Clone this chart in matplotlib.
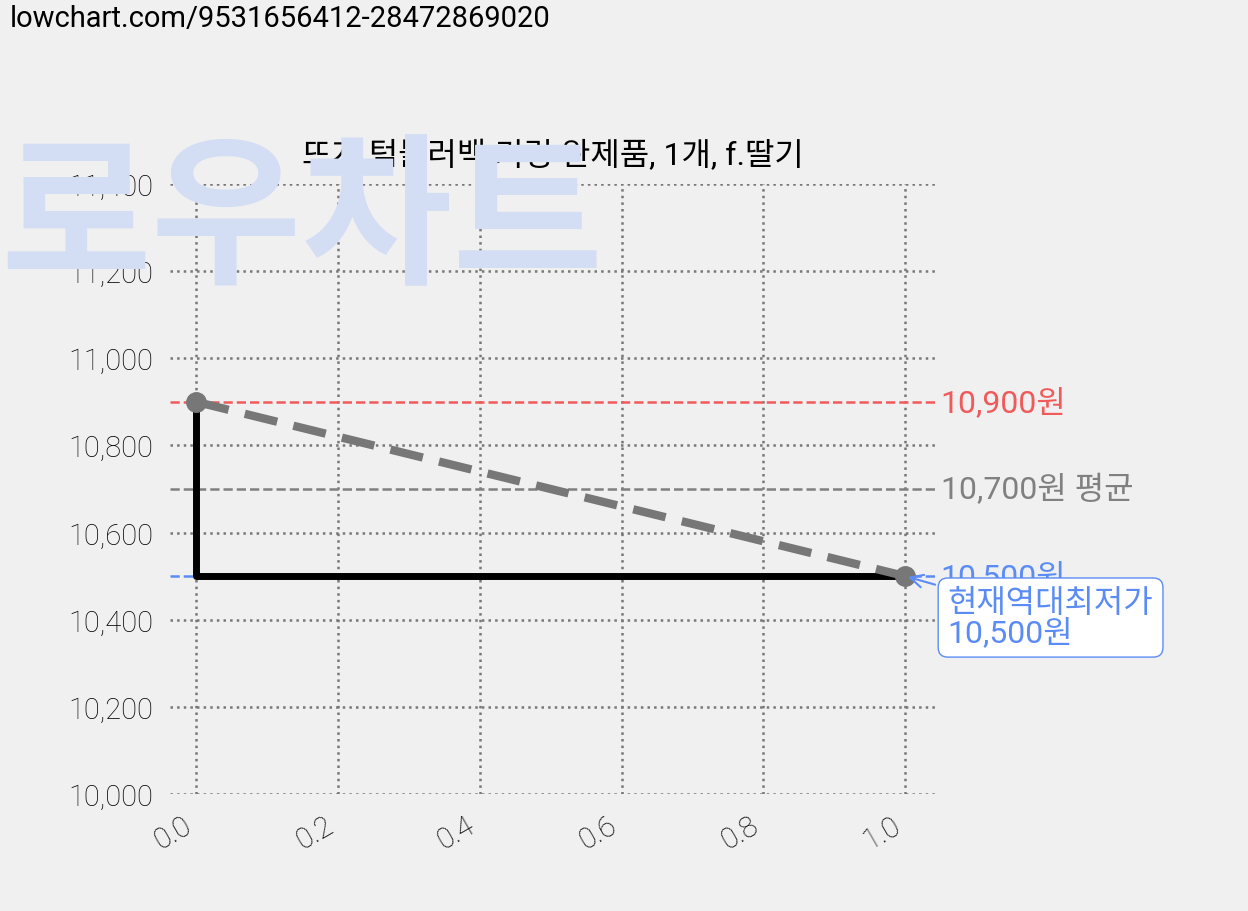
import matplotlib
matplotlib.use("Agg")
import matplotlib.pyplot as plt

plt.rcParams['font.family'] = ['Roboto', 'Noto Sans CJK KR', 'DejaVu Sans']

xs = [0.0, 1.0]
prices = [10900, 10500]
max_price = 10900
avg_price = 10700
min_price = 10500
title = "뜨개 텀블러백 키링 완제품, 1개, f.딸기"
yticks = [10000, 10200, 10400, 10600, 10800, 11000, 11200, 11400]
xticks = [0.0, 0.2, 0.4, 0.6, 0.8, 1.0]

fig = plt.figure(figsize=(12.48, 9.12), dpi=100, facecolor='#f0f0f0')
fig.text(0.0, 690/912, "로우차트", fontsize=118, color='#d3ddf3',
         fontweight='black', fontstyle='italic', va='center', ha='left', zorder=0,
         family=['Noto Sans CJK KR'])
ax = fig.add_axes([170/1248, 1-795/912, (935-170)/1248, (795-185)/912])
ax.patch.set_alpha(0)
for s in ax.spines.values():
    s.set_visible(False)
ax.set_xlim(-0.037, 1.042)
ax.set_ylim(10000, 11400)
ax.set_yticks(yticks)
ax.set_yticklabels([f"{v:,}" for v in yticks], fontsize=21, fontweight='light')
ax.set_xticks(xticks)
ax.set_xticklabels([f"{v:.1f}" for v in xticks], fontsize=21, rotation=30, ha='right', fontweight='light')
ax.tick_params(length=0, pad=12)
ax.grid(True, linestyle=':', color='#777777', linewidth=1.8)

ax.axhline(max_price, color='#f05a5a', linestyle='--', linewidth=1.8)
ax.axhline(avg_price, color='#808080', linestyle='--', linewidth=1.8)
ax.axhline(min_price, color='#5b8cf5', linestyle='--', linewidth=1.8)

ax.plot(xs, prices, drawstyle='steps-pre', color='black', linewidth=5)
ax.plot(xs, prices, color='#777777', linestyle='--', linewidth=6, dashes=(4, 2),
        marker='o', markersize=14)

ax.text(1.05, max_price, f"{max_price:,}원", color='#f05a5a', fontsize=23, va='center', clip_on=False)
ax.text(1.05, avg_price, f"{avg_price:,}원 평균", color='#808080', fontsize=23, va='center', clip_on=False)
ax.text(1.05, min_price, f"{min_price:,}원", color='#5b8cf5', fontsize=23, va='center', clip_on=False)
ax.annotate(f"현재역대최저가\n{min_price:,}원", xy=(1.0, min_price), xytext=(1.06, 10405),
            color='#5b8cf5', fontsize=23, va='center', ha='left', linespacing=1.0,
            bbox=dict(boxstyle='round,pad=0.3', fc='white', ec='#5b8cf5'),
            arrowprops=dict(arrowstyle='->', color='#5b8cf5', lw=1.5), annotation_clip=False)

ax.set_title(title, fontsize=23, pad=14)
fig.text(0.008, 0.995, "lowchart.com/9531656412-28472869020", fontsize=21, va='top')
fig.savefig("out.png", dpi=100, facecolor=fig.get_facecolor())
